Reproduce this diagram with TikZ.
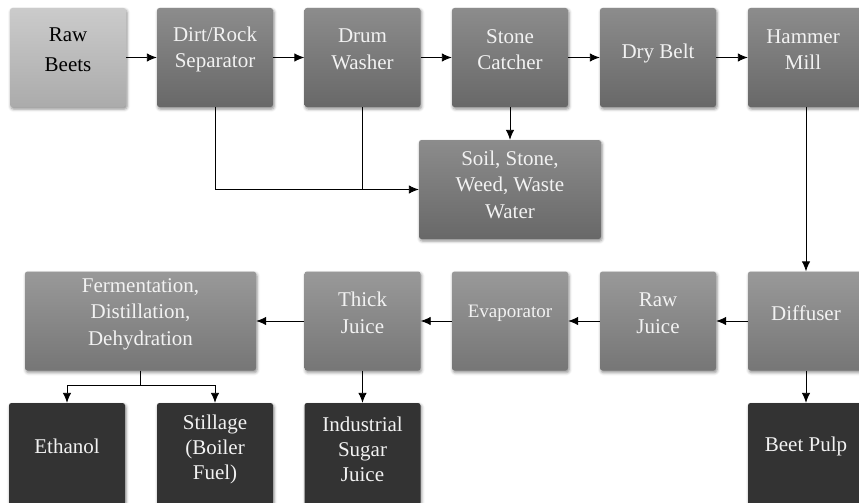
\documentclass[tikz,border=0pt]{standalone}
\usepackage{fontspec}
\setmainfont{Liberation Serif}
\usetikzlibrary{arrows.meta,shadows.blur}
\definecolor{rawtop}{HTML}{CBCBCB}
\definecolor{rawbot}{HTML}{ABABAB}
\definecolor{proctop}{HTML}{8C8C8C}
\definecolor{procbot}{HTML}{686868}
\definecolor{lowtop}{HTML}{999999}
\definecolor{lowbot}{HTML}{767676}
\definecolor{prodfill}{HTML}{333333}
\definecolor{boxtext}{HTML}{F2F2F2}
\tikzstyle{stage}=[rectangle, rounded corners=2.5pt, inner sep=0pt,
    minimum width=116pt, minimum height=99pt,
    blur shadow={shadow xshift=1pt, shadow yshift=-2pt, shadow blur radius=3pt, shadow opacity=45}]
\tikzstyle{rawbox}=[stage, top color=rawtop, bottom color=rawbot]
\tikzstyle{procbox}=[stage, top color=proctop, bottom color=procbot]
\tikzstyle{lowbox}=[stage, top color=lowtop, bottom color=lowbot]
\tikzstyle{prodbox}=[stage, fill=prodfill, minimum height=102pt]
\tikzstyle{lighttxt}=[font=\fontsize{21}{26.5}\selectfont, text=boxtext, align=center, yshift=8pt]
\tikzstyle{darktxt}=[lighttxt, text=black, font=\fontsize{21}{30}\selectfont]
\tikzstyle{threetxt}=[lighttxt, font=\fontsize{21}{25}\selectfont, yshift=-3pt]
\newcommand{\stage}[5]{\node[#1, label={[#2]center:{#5}}] (#3) at (#4) {};}

\begin{document}
\begin{tikzpicture}[x=1pt, y=-1pt
    ,>={Latex[length=10pt,width=8.5pt]}
    ,every edge/.style={draw, line width=0.9pt, ->}
]
\useasboundingbox (0,0) rectangle (859,503);
% top row
\stage{rawbox}{darktxt}{raw}{68,57.5}{Raw\\Beets}
\stage{procbox}{lighttxt}{sep}{215,57.5}{Dirt/Rock\\Separator}
\stage{procbox}{lighttxt}{washer}{362.5,57.5}{Drum\\Washer}
\stage{procbox}{lighttxt}{catcher}{510,57.5}{Stone\\Catcher}
\stage{procbox}{lighttxt, yshift=-4pt}{belt}{658,57.5}{Dry Belt}
\stage{procbox}{lighttxt, xshift=-3pt}{mill}{806,57.5}{Hammer\\Mill}
\node[procbox, minimum width=182pt, label={[lighttxt, yshift=-3pt]center:{Soil, Stone,\\Weed, Waste\\Water}}] (soil) at (510,189.5) {};
% middle row
\stage{lowbox}{lighttxt}{diffuser}{806,321}{Diffuser}
\stage{lowbox}{lighttxt}{rawjuice}{658,321}{Raw\\Juice}
\stage{lowbox}{lighttxt}{evap}{510,321}{\fontsize{19}{22}\selectfont Evaporator}
\stage{lowbox}{lighttxt}{thick}{362.5,321}{Thick\\Juice}
\node[lowbox, minimum width=231pt, label={[lighttxt, yshift=-1pt]center:{Fermentation,\\Distillation,\\Dehydration}}] (ferm) at (140.5,321) {};
% products
\stage{prodbox}{lighttxt}{ethanol}{67,454}{Ethanol}
\stage{prodbox}{threetxt}{stillage}{215,454}{Stillage\\(Boiler\\Fuel)}
\stage{prodbox}{threetxt}{sugar}{362.5,454}{Industrial\\Sugar\\Juice}
\stage{prodbox}{lighttxt}{pulp}{806,454}{Beet Pulp}
\path
(raw) edge (sep)
(sep) edge (washer)
(washer) edge (catcher)
(catcher) edge (belt)
(belt) edge (mill)
(mill) edge (diffuser)
(diffuser) edge (rawjuice) edge (pulp)
(rawjuice) edge (evap)
(evap) edge (thick)
(thick) edge (ferm) edge (sugar)
(catcher) edge (soil)
;
\draw[line width=0.9pt, ->] (sep.south) |- (soil.west);
\draw[line width=0.9pt] (washer.south) -- (washer.south |- soil.west);
\draw[line width=0.9pt] (ferm.south) -- ++(0,15) coordinate (split);
\draw[line width=0.9pt, ->] (split) -| (ethanol.north);
\draw[line width=0.9pt, ->] (split) -| (stillage.north);
\end{tikzpicture}
\end{document}
